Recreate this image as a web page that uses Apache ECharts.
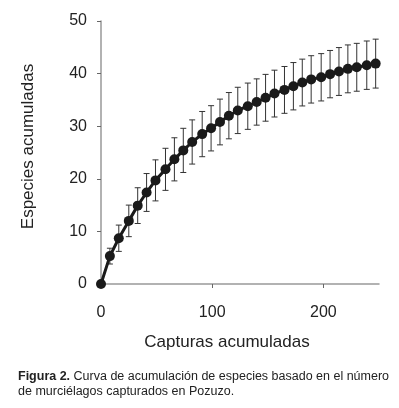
<!DOCTYPE html>
<html>
<head>
<meta charset="utf-8">
<script src="https://cdn.jsdelivr.net/npm/echarts@6/dist/echarts.min.js"></script>
<style>
  html, body { margin: 0; padding: 0; background: #fff; }
  #chart { width: 399px; height: 408px; }
</style>
</head>
<body>
<div id="chart"></div>
<script>
// captures (x), mean accumulated species, and half-width of the error bars
const captures = [0, 8, 16, 25, 33, 41, 49, 58, 66, 74, 82, 91, 99, 107, 115, 123,
  132, 140, 148, 156, 165, 173, 181, 189, 198, 206, 214, 222, 230, 239, 247];
const species = [0, 5.3, 8.7, 12.0, 14.9, 17.4, 19.7, 21.8, 23.7, 25.4, 27.0, 28.5,
  29.6, 30.8, 32.0, 33.0, 33.8, 34.6, 35.4, 36.2, 36.9, 37.6, 38.3, 38.9, 39.3,
  39.9, 40.4, 40.9, 41.2, 41.6, 41.9];
const errors = [0, 1.5, 2.5, 3.0, 3.4, 3.6, 3.9, 4.0, 4.1, 4.2, 4.2, 4.3, 4.3, 4.35,
  4.4, 4.4, 4.4, 4.4, 4.45, 4.45, 4.45, 4.5, 4.45, 4.5, 4.5, 4.5, 4.55, 4.55, 4.55,
  4.6, 4.65];
const xTicks = [0, 100, 200];

const lineData = captures.map((x, i) => [x, species[i]]);
const barData = captures.map((x, i) => [x, species[i] - errors[i], species[i] + errors[i]]);

const chart = echarts.init(document.getElementById('chart'));
const axisColor = '#999';
const textColor = '#222';
const font = '"Liberation Sans", Arial, sans-serif';

chart.setOption({
  animation: false,
  grid: { left: 101, right: 20, top: 21, bottom: 124 },
  xAxis: {
    type: 'value',
    min: 0,
    max: 250,
    name: 'Capturas acumuladas',
    nameLocation: 'middle',
    nameGap: 50,
    nameTextStyle: { color: textColor, fontSize: 17, fontFamily: font, padding: [0, 26, 0, 0] },
    axisLine: { lineStyle: { color: axisColor, width: 1.5 } },
    axisTick: { show: true, length: 4, customValues: xTicks, lineStyle: { color: '#666' } },
    axisLabel: { customValues: xTicks, color: textColor, fontSize: 16, fontFamily: font, margin: 21 },
    splitLine: { show: false }
  },
  yAxis: {
    type: 'value',
    min: 0,
    max: 50,
    interval: 10,
    name: 'Especies acumuladas',
    nameLocation: 'middle',
    nameGap: 64,
    nameTextStyle: { color: textColor, fontSize: 17, fontFamily: font, padding: [0, 0, 0, 12] },
    axisLine: { show: true, lineStyle: { color: axisColor, width: 1.5 } },
    axisTick: { show: true, length: 4, lineStyle: { color: '#666' } },
    axisLabel: { color: textColor, fontSize: 16, fontFamily: font, margin: 14 },
    splitLine: { show: false }
  },
  series: [
    {
      type: 'custom',
      data: barData,
      z: 1,
      renderItem: (params, api) => {
        const x = api.value(0);
        const lo = api.coord([x, api.value(1)]);
        const hi = api.coord([x, api.value(2)]);
        const cap = 3;
        const style = { stroke: '#333', lineWidth: 1 };
        return {
          type: 'group',
          children: [
            { type: 'line', shape: { x1: lo[0], y1: lo[1], x2: hi[0], y2: hi[1] }, style },
            { type: 'line', shape: { x1: hi[0] - cap, y1: hi[1], x2: hi[0] + cap, y2: hi[1] }, style },
            { type: 'line', shape: { x1: lo[0] - cap, y1: lo[1], x2: lo[0] + cap, y2: lo[1] }, style }
          ]
        };
      }
    },
    {
      type: 'line',
      data: lineData,
      z: 3,
      symbol: 'circle',
      symbolSize: 10,
      lineStyle: { color: '#1a1a1a', width: 3 },
      itemStyle: { color: '#1a1a1a' }
    }
  ],
  graphic: [
    {
      type: 'text',
      left: 18,
      top: 369,
      style: {
        text: '{b|Figura 2.} Curva de acumulación de especies basado en el número\nde murciélagos capturados en Pozuzo.',
        fill: textColor,
        font: '12.5px ' + font,
        lineHeight: 15,
        rich: {
          b: { fontWeight: 'bold', fontSize: 12.5, fontFamily: font, fill: textColor }
        }
      }
    }
  ]
});
</script>
</body>
</html>
